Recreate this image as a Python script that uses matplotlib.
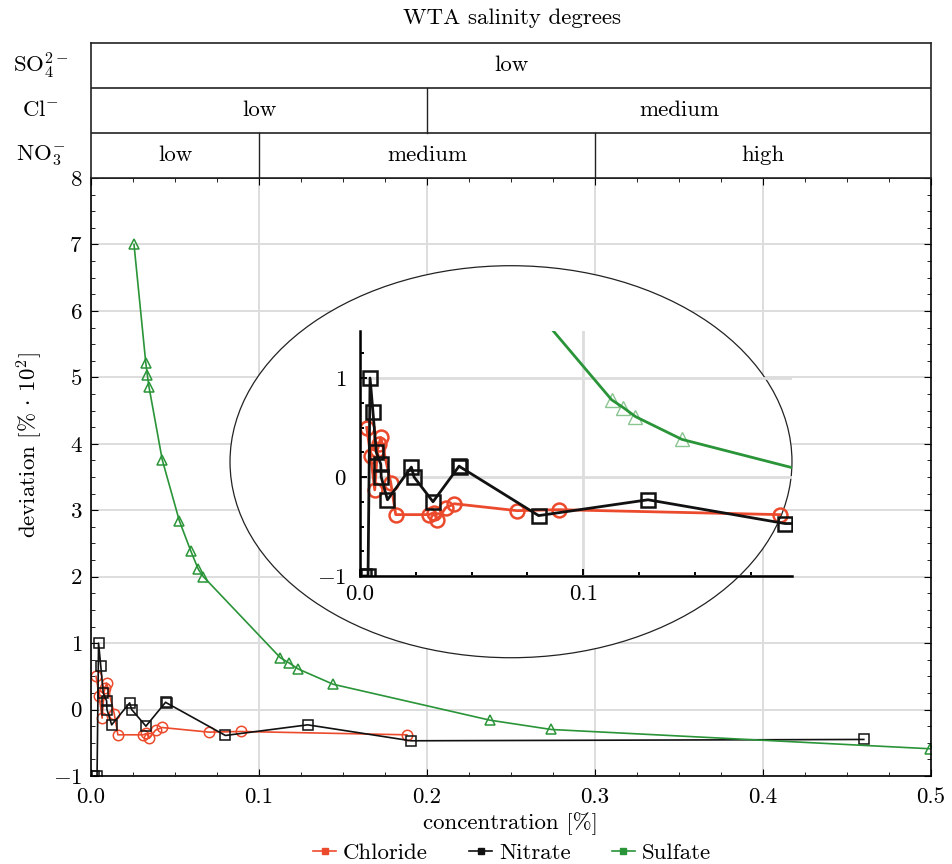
import numpy as np
import matplotlib
matplotlib.use('Agg')
import matplotlib.pyplot as plt
from matplotlib.patches import Ellipse
from matplotlib.lines import Line2D
from matplotlib.ticker import MultipleLocator, FormatStrFormatter

plt.rcParams['font.family'] = 'serif'
plt.rcParams['font.serif'] = ['cmr10', 'DejaVu Serif']
plt.rcParams['mathtext.fontset'] = 'cm'
plt.rcParams['axes.formatter.use_mathtext'] = True
plt.rcParams['axes.unicode_minus'] = True

# concentration [%] / deviation [% * 10^2]
chloride_x = [0.0030, 0.0048, 0.0066, 0.0078, 0.0085, 0.0093, 0.0138, 0.0160,
              0.0310, 0.0330, 0.0347, 0.0384, 0.0422, 0.0703, 0.0890, 0.1880]
chloride_y = [0.50, 0.21, -0.13, 0.27, 0.33, 0.40, -0.06, -0.38,
              -0.38, -0.36, -0.43, -0.31, -0.27, -0.34, -0.33, -0.38]

nitrate_x = [0.0020, 0.0036, 0.0045, 0.0058, 0.0073, 0.0093, 0.0095, 0.0123,
             0.0230, 0.0242, 0.0327, 0.0444, 0.0450, 0.0800, 0.1290, 0.1904, 0.4600]
nitrate_y = [-1.0, -1.0, 1.0, 0.66, 0.25, 0.13, 0.0, -0.23,
             0.10, 0.0, -0.25, 0.11, 0.10, -0.39, -0.23, -0.47, -0.45]

sulfate_x = [0.0256, 0.0326, 0.0335, 0.0345, 0.0424, 0.0526, 0.0595, 0.0639,
             0.0669, 0.1127, 0.1180, 0.1234, 0.1442, 0.2375, 0.2740, 0.4994]
sulfate_y = [7.00, 5.22, 5.04, 4.86, 3.76, 2.84, 2.38, 2.11,
             2.00, 0.78, 0.70, 0.61, 0.38, -0.16, -0.30, -0.59]

# WTA salinity classes per ion: (start, end, label)
so4_classes = [(0.0, 0.5, 'low')]
cl_classes = [(0.0, 0.2, 'low'), (0.2, 0.5, 'medium')]
no3_classes = [(0.0, 0.1, 'low'), (0.1, 0.3, 'medium'), (0.3, 0.5, 'high')]
ion_labels = [r'$\mathrm{SO}_4^{2-}$', r'$\mathrm{Cl}^{-}$', r'$\mathrm{NO}_3^{-}$']

RED = '#ec4a2c'
BLACK = '#111111'
GREEN = '#2a9438'
GRID = '#dddddd'
FS = 16.5

W, H = 953, 864
fig = plt.figure(figsize=(W / 100, H / 100), dpi=100)

def fx(px):
    return px / W

def fy(py):
    return 1 - py / H

# main axes
ax = fig.add_axes([fx(91), fy(776), fx(931) - fx(91), fy(178) - fy(776)])
ax.set_xlim(0, 0.5)
ax.set_ylim(-1, 8)
ax.xaxis.set_major_locator(MultipleLocator(0.1))
ax.xaxis.set_minor_locator(MultipleLocator(0.025))
ax.yaxis.set_major_locator(MultipleLocator(1))
ax.yaxis.set_minor_locator(MultipleLocator(0.25))
ax.xaxis.set_major_formatter(FormatStrFormatter('%.1f'))
ax.tick_params(which='both', direction='in', top=True, right=True, labelsize=FS)
ax.tick_params(which='major', length=5)
ax.tick_params(which='minor', length=3)
ax.tick_params(axis='x', pad=8)
ax.tick_params(axis='y', pad=6)
ax.grid(True, which='major', color=GRID, linewidth=1.4)
ax.set_axisbelow(True)
for s in ax.spines.values():
    s.set_linewidth(1.2)

ax.plot(chloride_x, chloride_y, color=RED, lw=1.2, marker='o', ms=7.5,
        mfc='none', mec=RED, mew=1.1, zorder=2)
ax.plot(nitrate_x, nitrate_y, color=BLACK, lw=1.2, marker='s', ms=7.5,
        mfc='none', mec=BLACK, mew=1.1, zorder=2)
ax.plot(sulfate_x, sulfate_y, color=GREEN, lw=1.2, marker='^', ms=7.5,
        mfc='none', mec=GREEN, mew=1.1, zorder=2)

ax.set_xlabel('concentration [%]', fontsize=FS, labelpad=4)
ax.set_ylabel(r'deviation [% $\cdot$ 10$^2$]', fontsize=FS)
ax.yaxis.set_label_coords(-0.055, 0.553)

# zoom ellipse behind the inset
ell = Ellipse((0.25, 3.73), 0.3345, 5.9, facecolor='white', edgecolor='#222222',
              lw=0.9, zorder=3)
ax.add_patch(ell)

# inset
ins = fig.add_axes([fx(360), fy(576), fx(792) - fx(360), fy(331) - fy(576)])
ins.patch.set_alpha(0)
ins.set_xlim(0, 0.1935)
ins.set_ylim(-1, 1.475)
ins.spines['top'].set_visible(False)
ins.spines['right'].set_visible(False)
for s in ('left', 'bottom'):
    ins.spines[s].set_linewidth(1.8)
ins.xaxis.set_major_locator(MultipleLocator(0.1))
ins.xaxis.set_minor_locator(MultipleLocator(0.025))
ins.yaxis.set_major_locator(MultipleLocator(1))
ins.yaxis.set_minor_locator(MultipleLocator(0.25))
ins.xaxis.set_major_formatter(FormatStrFormatter('%.1f'))
ins.tick_params(which='both', direction='in', labelsize=FS, width=1.4)
ins.tick_params(which='major', length=5)
ins.tick_params(which='minor', length=3)
ins.tick_params(axis='y', pad=10)
ins.tick_params(axis='x', pad=6)
ins.grid(True, which='major', color=GRID, linewidth=2)
ins.set_axisbelow(True)

ins.plot(chloride_x, chloride_y, color=RED, lw=2, marker='o', ms=10,
         mfc='none', mec=RED, mew=1.8)
ins.plot(nitrate_x, nitrate_y, color=BLACK, lw=2, marker='s', ms=10,
         mfc='none', mec=BLACK, mew=1.8)
ins.plot(sulfate_x, sulfate_y, color=GREEN, lw=2)
ins.plot(sulfate_x, sulfate_y, ls='none', marker='^', ms=10, mfc='none',
         mec=GREEN, mew=1.0, alpha=0.55)

# salinity header table
hd = fig.add_axes([fx(91), fy(178), fx(931) - fx(91), fy(43) - fy(178)])
hd.set_xlim(0, 0.5)
hd.set_ylim(0, 3)
hd.set_xticks([])
hd.set_yticks([])
for s in hd.spines.values():
    s.set_linewidth(1.2)
    s.set_color('#222222')
for row, classes in enumerate([no3_classes, cl_classes, so4_classes]):
    if row > 0:
        hd.axhline(row, color='#222222', lw=1.2)
    for start, end, label in classes:
        if start > 0:
            hd.plot([start, start], [row, row + 1], color='#222222', lw=1.0)
        hd.text((start + end) / 2, row + 0.5, label, ha='center', va='center',
                fontsize=FS)
for i, lab in enumerate(ion_labels):
    hd.text(-0.06, (2.5 - i) / 3, lab, transform=hd.transAxes, ha='center',
            va='center', fontsize=FS, clip_on=False)

fig.text(fx(512), fy(18), 'WTA salinity degrees', ha='center', va='center',
         fontsize=FS)

handles = [Line2D([], [], color=c, lw=1.2, marker='s', ms=4, mfc=c, mec=c)
           for c in (RED, BLACK, GREEN)]
fig.legend(handles, ['Chloride', 'Nitrate', 'Sulfate'], loc='center',
           bbox_to_anchor=(fx(512), fy(853)), ncol=3, frameon=False,
           fontsize=FS, handlelength=1.0, handletextpad=0.3, columnspacing=1.8)

fig.savefig('out.png', dpi=100)
